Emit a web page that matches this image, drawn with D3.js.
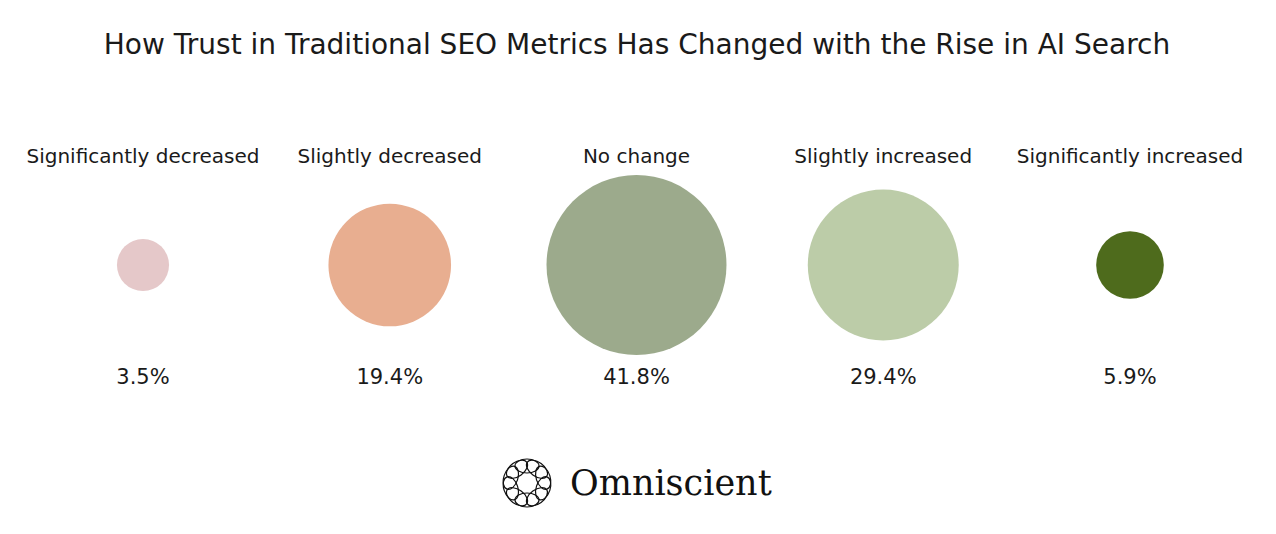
<!DOCTYPE html>
<html>
<head>
<meta charset="utf-8">
<script src="https://cdn.jsdelivr.net/npm/d3@7"></script>
<style>
  body { margin: 0; background: #fff; }
  text { font-family: "DejaVu Sans", sans-serif; fill: #1a1a1a; }
</style>
</head>
<body>
<div id="container"></div>
<script>
const width = 1276, height = 534;

// data
const categories = ["Significantly decreased", "Slightly decreased", "No change", "Slightly increased", "Significantly increased"];
const values = [3.5, 19.4, 41.8, 29.4, 5.9];
const colors = ["#e5c8c9", "#e8ae90", "#9caa8c", "#bccca8", "#4e6b1c"];

const svg = d3.select("#container")
  .append("svg")
  .attr("width", width)
  .attr("height", height);

// Title
svg.append("text")
  .attr("x", 637)
  .attr("y", 54)
  .attr("text-anchor", "middle")
  .style("font-size", "28px")
  .text("How Trust in Traditional SEO Metrics Has Changed with the Rise in AI Search");

// scales
const xScale = d3.scalePoint()
  .domain(categories)
  .range([143, 1130]);

const rScale = d3.scaleSqrt()
  .domain([0, d3.max(values)])
  .range([0, 90]);

const data = categories.map((c, i) => ({ cat: c, value: values[i], color: colors[i] }));
const cy = 265;

svg.selectAll("circle.bubble")
  .data(data)
  .enter()
  .append("circle")
  .attr("class", "bubble")
  .attr("cx", d => xScale(d.cat))
  .attr("cy", cy)
  .attr("r", d => rScale(d.value))
  .attr("fill", d => d.color);

// category labels
svg.selectAll("text.cat")
  .data(data)
  .enter()
  .append("text")
  .attr("class", "cat")
  .attr("x", d => xScale(d.cat))
  .attr("y", 163)
  .attr("text-anchor", "middle")
  .style("font-size", "20px")
  .text(d => d.cat);

// value labels
svg.selectAll("text.val")
  .data(data)
  .enter()
  .append("text")
  .attr("class", "val")
  .attr("x", d => xScale(d.cat))
  .attr("y", 384)
  .attr("text-anchor", "middle")
  .style("font-size", "21px")
  .text(d => d.value.toFixed(1) + "%");

// logo
const logo = svg.append("g").attr("transform", "translate(527,483)");
d3.range(10).forEach(i => {
  const a = i * 36;
  logo.append("ellipse")
    .attr("transform", `rotate(${a}) translate(0,-17)`)
    .attr("rx", 12)
    .attr("ry", 7)
    .attr("fill", "none")
    .attr("stroke", "#111")
    .attr("stroke-width", 1.2);
});
svg.append("text")
  .attr("x", 570)
  .attr("y", 495)
  .style("font-family", "'DejaVu Serif', serif")
  .style("font-size", "35px")
  .style("fill", "#111")
  .text("Omniscient");
</script>
</body>
</html>
